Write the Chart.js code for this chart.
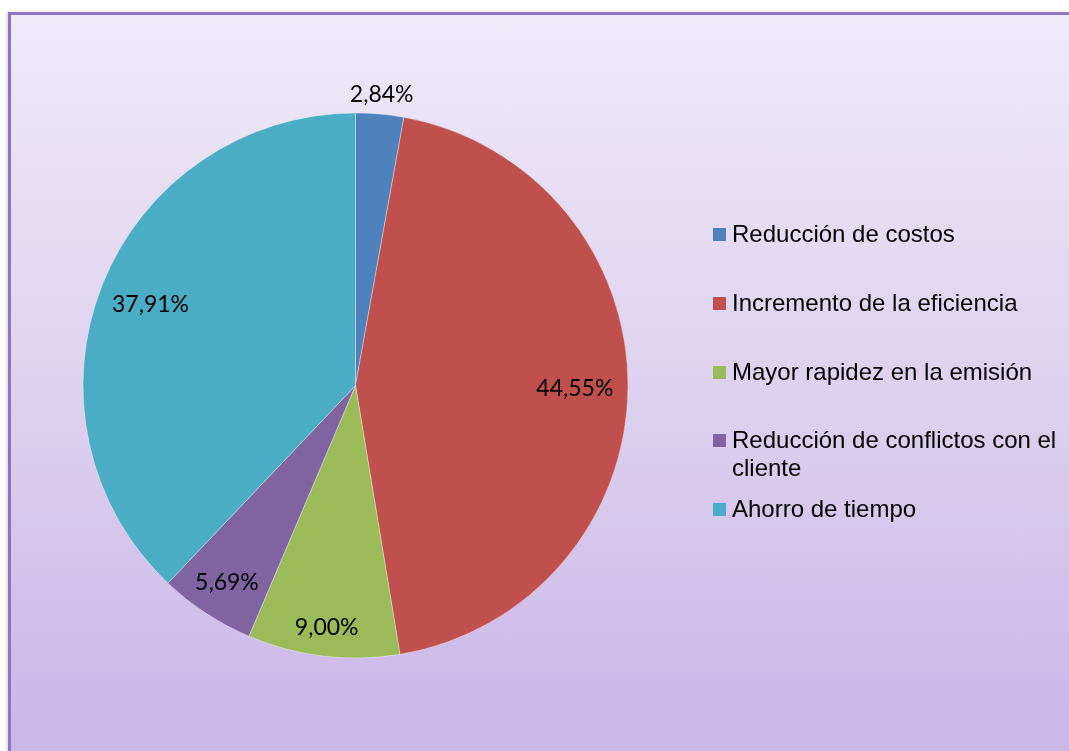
<!DOCTYPE html>
<html>
<head>
<meta charset="utf-8">
<script src="https://cdn.jsdelivr.net/npm/chart.js@4/dist/chart.umd.min.js"></script>
<style>
  html, body { margin: 0; padding: 0; background: #fff; }
  body { width: 1069px; height: 751px; position: relative; overflow: hidden; }
  .frame {
    position: absolute; left: 8px; top: 12px; width: 1100px; height: 780px;
    border-top: 3px solid #8f74c2; border-left: 3px solid #8f74c2;
    background: linear-gradient(to bottom, #efe9f8 0%, #ddd0ef 50%, #c7b2e6 100%);
    box-shadow: -2px 0 2px rgba(0,0,0,0.12);
  }
  .wrap { position: absolute; left: 0; top: 0; width: 1069px; height: 751px; }
  #legend { position: absolute; left: 713px; top: 220px; width: 345px; margin: 0; padding: 0; list-style: none;
            font-family: "Liberation Sans", Arial, sans-serif; font-size: 24px; line-height: 28px; color: #000; }
  #legend li { position: relative; height: 68.75px; padding-left: 19px; }
  #legend li span { position: absolute; left: 0; top: 8px; width: 13px; height: 13px; }
</style>
</head>
<body>
<div class="frame"></div>
<div class="wrap"><canvas id="pie"></canvas></div>
<ul id="legend"></ul>
<script>
/* datos del gráfico */
const categorias = [
  'Reducción de costos',
  'Incremento de la eficiencia',
  'Mayor rapidez en la emisión',
  'Reducción de conflictos con el cliente',
  'Ahorro de tiempo'
];
const porcentajes = [2.84, 44.55, 9.00, 5.69, 37.91];
const colores = ['#4f81bd', '#c0504d', '#9bbb59', '#8064a2', '#4bacc6'];

const fmtPct = v => v.toFixed(2).replace('.', ',') + '%';

/* etiquetas de porcentaje sobre cada sector (posición relativa al radio) */
const pctLabels = {
  id: 'pctLabels',
  afterDatasetsDraw(chart, args, opts) {
    const { ctx } = chart;
    const meta = chart.getDatasetMeta(0);
    ctx.save();
    ctx.font = opts.font;
    ctx.fillStyle = opts.color;
    ctx.textAlign = 'center';
    ctx.textBaseline = 'middle';
    meta.data.forEach((arc, i) => {
      const mid = (arc.startAngle + arc.endAngle) / 2;
      const r = arc.outerRadius * opts.radius[i];
      ctx.fillText(fmtPct(porcentajes[i]), arc.x + Math.cos(mid) * r, arc.y + Math.sin(mid) * r + 1);
    });
    ctx.restore();
  }
};

const chart = new Chart(document.getElementById('pie'), {
  type: 'pie',
  data: {
    labels: categorias,
    datasets: [{
      data: porcentajes,
      backgroundColor: colores,
      borderColor: 'rgba(255,255,255,0.35)',
      borderWidth: 1
    }]
  },
  options: {
    responsive: true,
    maintainAspectRatio: false,
    animation: false,
    layout: { padding: { left: 82.5, top: 112.5, right: 440.5, bottom: 92.5 } },
    plugins: {
      legend: { display: false },
      tooltip: { enabled: false },
      pctLabels: {
        font: '23px Lato, "Open Sans", sans-serif',
        color: '#000',
        radius: [1.077, 0.805, 0.89, 0.86, 0.81]
      }
    }
  },
  plugins: [pctLabels]
});

/* leyenda HTML (permite el salto de línea del cuarto elemento) */
const items = Chart.overrides.pie.plugins.legend.labels.generateLabels(chart);
document.getElementById('legend').innerHTML = items.map(it =>
  `<li><span style="background:${it.fillStyle}"></span>${it.text}</li>`
).join('');
</script>
</body>
</html>
